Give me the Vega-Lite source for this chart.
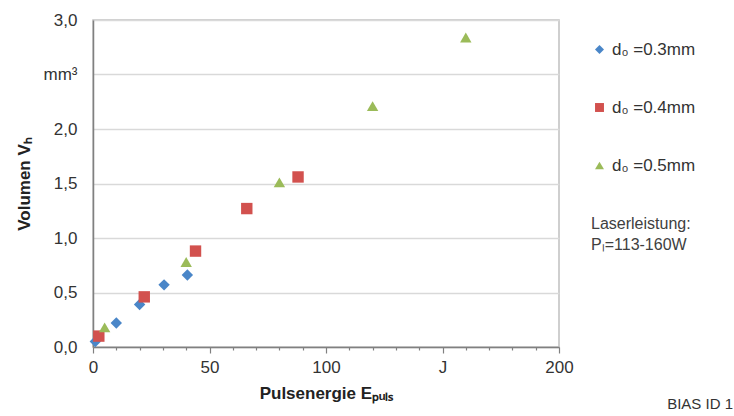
{
  "$schema": "https://vega.github.io/schema/vega-lite/v6.json",
  "width": 466,
  "height": 327,
  "autosize": {"type": "pad"},
  "padding": {"left": 15, "top": 11, "right": 5, "bottom": 0},
  "config": {
    "font": "Liberation Sans",
    "view": {"stroke": "#c0c0c0", "strokeWidth": 1.5}
  },
  "title": {
    "text": "BIAS ID 1",
    "orient": "bottom",
    "anchor": "end",
    "frame": "bounds",
    "fontSize": 15,
    "fontWeight": "normal",
    "color": "#333333",
    "offset": -4,
    "dx": 37
  },
  "data": {
    "values": [
      {"E": 1, "V": 0.05, "d": "d₀ =0.3mm"},
      {"E": 10, "V": 0.22, "d": "d₀ =0.3mm"},
      {"E": 20, "V": 0.39, "d": "d₀ =0.3mm"},
      {"E": 30.5, "V": 0.57, "d": "d₀ =0.3mm"},
      {"E": 40.5, "V": 0.66, "d": "d₀ =0.3mm"},
      {"E": 2.5, "V": 0.1, "d": "d₀ =0.4mm"},
      {"E": 22, "V": 0.46, "d": "d₀ =0.4mm"},
      {"E": 44, "V": 0.88, "d": "d₀ =0.4mm"},
      {"E": 66, "V": 1.27, "d": "d₀ =0.4mm"},
      {"E": 88, "V": 1.56, "d": "d₀ =0.4mm"},
      {"E": 5, "V": 0.18, "d": "d₀ =0.5mm"},
      {"E": 40, "V": 0.78, "d": "d₀ =0.5mm"},
      {"E": 80, "V": 1.51, "d": "d₀ =0.5mm"},
      {"E": 120, "V": 2.21, "d": "d₀ =0.5mm"},
      {"E": 160, "V": 2.84, "d": "d₀ =0.5mm"}
    ]
  },
  "mark": {"type": "point", "filled": true, "opacity": 1, "size": 130},
  "encoding": {
    "x": {
      "field": "E",
      "type": "quantitative",
      "scale": {"domain": [0, 200], "nice": false, "zero": true},
      "axis": {
        "title": "Pulsenergie Eₚᵤₗₛ",
        "titleFontSize": 17,
        "titleFontWeight": "bold",
        "titleColor": "#222222",
        "titlePadding": 10,
        "values": [0, 10, 20, 30, 40, 50, 60, 70, 80, 90, 100, 110, 120, 130, 140, 150, 160, 170, 180, 190, 200],
        "labelExpr": "datum.value == 150 ? 'J' : (datum.value % 50 == 0 ? format(datum.value, 'd') : '')",
        "labelFontSize": 17,
        "labelColor": "#333333",
        "labelPadding": 6,
        "labelFlush": false,
        "labelOverlap": false,
        "grid": false,
        "domainColor": "#808080",
        "domainWidth": 1.5,
        "tickColor": "#808080",
        "tickWidth": 1.2,
        "tickSize": {"condition": {"test": "datum.value % 50 == 0", "value": 6}, "value": 3}
      }
    },
    "y": {
      "field": "V",
      "type": "quantitative",
      "scale": {"domain": [0, 3], "nice": false},
      "axis": {
        "title": "Volumen Vₕ",
        "titleFontSize": 17,
        "titleFontWeight": "bold",
        "titleColor": "#222222",
        "titlePadding": 10,
        "values": [0, 0.5, 1, 1.5, 2, 2.5, 3],
        "labelExpr": "datum.value == 2.5 ? 'mm³' : replace(format(datum.value, '.1f'), '.', ',')",
        "labelFontSize": 17,
        "labelColor": "#333333",
        "labelPadding": 16,
        "labelFlush": false,
        "ticks": false,
        "grid": true,
        "gridColor": "#d9d9d9",
        "gridWidth": 1.5,
        "domainColor": "#808080",
        "domainWidth": 1.5
      }
    },
    "color": {
      "field": "d",
      "type": "nominal",
      "scale": {
        "domain": ["d₀ =0.3mm", "d₀ =0.4mm", "d₀ =0.5mm"],
        "range": ["#4A86C8", "#D2514E", "#9BBB59"]
      },
      "legend": {
        "orient": "none",
        "legendX": 498,
        "legendY": 21,
        "title": ["Laserleistung:", "Pₗ=113-160W"],
        "titleOrient": "bottom",
        "titleAnchor": "start",
        "titleFontSize": 16,
        "titleFontWeight": "normal",
        "titleColor": "#404040",
        "titleLineHeight": 21,
        "titlePadding": 42,
        "labelFontSize": 17,
        "labelColor": "#333333",
        "labelOffset": 4,
        "symbolSize": 80,
        "rowPadding": 40,
        "padding": 0
      }
    },
    "shape": {
      "field": "d",
      "type": "nominal",
      "scale": {
        "domain": ["d₀ =0.3mm", "d₀ =0.4mm", "d₀ =0.5mm"],
        "range": ["diamond", "square", "triangle-up"]
      },
      "legend": {
        "orient": "none",
        "legendX": 498,
        "legendY": 21,
        "title": ["Laserleistung:", "Pₗ=113-160W"],
        "titleOrient": "bottom",
        "titleAnchor": "start",
        "titleFontSize": 16,
        "titleFontWeight": "normal",
        "titleColor": "#404040",
        "titleLineHeight": 21,
        "titlePadding": 42,
        "labelFontSize": 17,
        "labelColor": "#333333",
        "labelOffset": 4,
        "symbolSize": 80,
        "rowPadding": 40,
        "padding": 0
      }
    }
  }
}
